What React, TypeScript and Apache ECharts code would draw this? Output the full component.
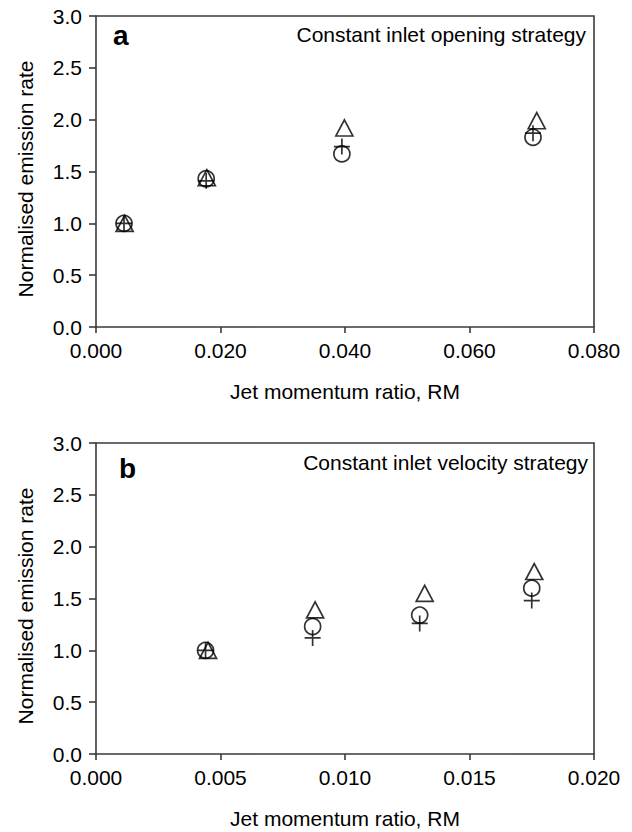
import React, { useEffect, useRef } from "react";
import * as echarts from "echarts";

// Panel a: constant inlet opening strategy
const xA = [0.0045, 0.0177, 0.0395, 0.0702];
const xATri = [0.0046, 0.0178, 0.0399, 0.0708];
const circleA = [1.0, 1.43, 1.67, 1.83];
const crossA = [1.0, 1.41, 1.74, 1.87];
const triangleA = [1.0, 1.44, 1.92, 1.99];

// Panel b: constant inlet velocity strategy
const xB = [0.0044, 0.0087, 0.013, 0.0175];
const xBTri = [0.0045, 0.0088, 0.0132, 0.0176];
const circleB = [1.0, 1.23, 1.34, 1.6];
const crossB = [1.0, 1.12, 1.26, 1.48];
const triangleB = [1.0, 1.39, 1.55, 1.76];

const xTicksA = { min: 0, max: 0.08, interval: 0.02 };
const xTicksB = { min: 0, max: 0.02, interval: 0.005 };
const yTicks = { min: 0, max: 3.0, interval: 0.5 };

const yTitle = "Normalised emission rate";
const xTitle = "Jet momentum ratio, RM";
const panelLabels = ["a", "b"];
const panelNotes = ["Constant inlet opening strategy", "Constant inlet velocity strategy"];

const FONT = "Liberation Sans, Arial, sans-serif";
const AX = "#3a3a3a";
const FS = 21;

function zip(xs: number[], ys: number[]) {
  return xs.map((x, i) => [x, ys[i]]);
}

export default function App() {
  const ref = useRef<HTMLDivElement>(null);
  useEffect(() => {
    const chart = echarts.init(ref.current!, null, { renderer: "svg" });
    const grids = [
      { left: 96, top: 16, width: 498, height: 311 },
      { left: 96, top: 443, width: 498, height: 311 },
    ];
    const labelPos = [
      { lx: 113, ly: 35, nx: 586, ny: 34 },
      { lx: 119, ly: 468, nx: 588, ny: 462 },
    ];
    const xAxisBase = (i: number, t: any) => ({
      type: "value",
      gridIndex: i,
      min: t.min,
      max: t.max,
      interval: t.interval,
      name: xTitle,
      nameLocation: "middle",
      nameGap: 54,
      nameTextStyle: { fontFamily: FONT, fontSize: FS, color: "#000" },
      axisLine: { show: true, onZero: false, lineStyle: { color: AX, width: 1.6 } },
      axisTick: { show: true, inside: false, length: 6, lineStyle: { color: AX, width: 1.6 } },
      axisLabel: {
        fontFamily: FONT,
        fontSize: FS,
        color: "#000",
        margin: 13,
        formatter: (v: number) => v.toFixed(3),
      },
      splitLine: { show: false },
    });
    const yAxisBase = (i: number) => ({
      type: "value",
      gridIndex: i,
      min: yTicks.min,
      max: yTicks.max,
      interval: yTicks.interval,
      axisLine: { show: true, onZero: false, lineStyle: { color: AX, width: 1.6 } },
      axisTick: { show: true, inside: false, length: 7, lineStyle: { color: AX, width: 1.6 } },
      axisLabel: {
        fontFamily: FONT,
        fontSize: FS,
        color: "#000",
        margin: 14,
        formatter: (v: number) => v.toFixed(1),
      },
      splitLine: { show: false },
    });
    const markStyle = { color: "none", borderColor: "#000", borderWidth: 1.7 };
    const mk = (name: string, idx: number, data: number[][], symbol: string, size: any) => ({
      name,
      type: "scatter",
      xAxisIndex: idx,
      yAxisIndex: idx,
      data,
      symbol,
      symbolSize: size,
      itemStyle: markStyle,
      z: 5,
    });
    const plus = "path://M5,0 L5,10 M0,5 L10,5";
    const tri = "path://M5,0 L10,9 L0,9 Z";
    const series: any[] = [
      mk("circle a", 0, zip(xA, circleA), "circle", 16),
      mk("cross a", 0, zip(xA, crossA), plus, 16),
      mk("triangle a", 0, zip(xATri, triangleA), tri, [17, 16]),
      mk("circle b", 1, zip(xB, circleB), "circle", 16),
      mk("cross b", 1, zip(xB, crossB), plus, 16),
      mk("triangle b", 1, zip(xBTri, triangleB), tri, [17, 16]),
    ];
    const graphic: any[] = [];
    grids.forEach((g, i) => {
      graphic.push({
        type: "polyline",
        shape: { points: [[g.left, g.top], [g.left + g.width, g.top], [g.left + g.width, g.top + g.height]] },
        style: { stroke: AX, lineWidth: 1.6, fill: "none" },
        silent: true,
      });
      graphic.push({
        type: "text",
        x: labelPos[i].lx,
        y: labelPos[i].ly,
        style: { text: panelLabels[i], font: `bold 28px ${FONT}`, fill: "#000", verticalAlign: "middle" },
      });
      graphic.push({
        type: "text",
        x: labelPos[i].nx,
        y: labelPos[i].ny,
        style: { text: panelNotes[i], font: `${FS}px ${FONT}`, fill: "#000", align: "right", verticalAlign: "middle" },
      });
      graphic.push({
        type: "text",
        x: 25,
        y: g.top + 163,
        rotation: Math.PI / 2,
        style: { text: yTitle, font: `${FS}px ${FONT}`, fill: "#000", align: "center", verticalAlign: "middle" },
      });
    });
    chart.setOption({
      animation: false,
      backgroundColor: "#fff",
      grid: grids,
      xAxis: [xAxisBase(0, xTicksA), xAxisBase(1, xTicksB)],
      yAxis: [yAxisBase(0), yAxisBase(1)],
      series,
      graphic,
    });
    return () => chart.dispose();
  }, []);
  return (
    <div
      ref={ref}
      style={{ position: "fixed", left: 0, top: 0, width: 632, height: 832, background: "#fff" }}
    />
  );
}
